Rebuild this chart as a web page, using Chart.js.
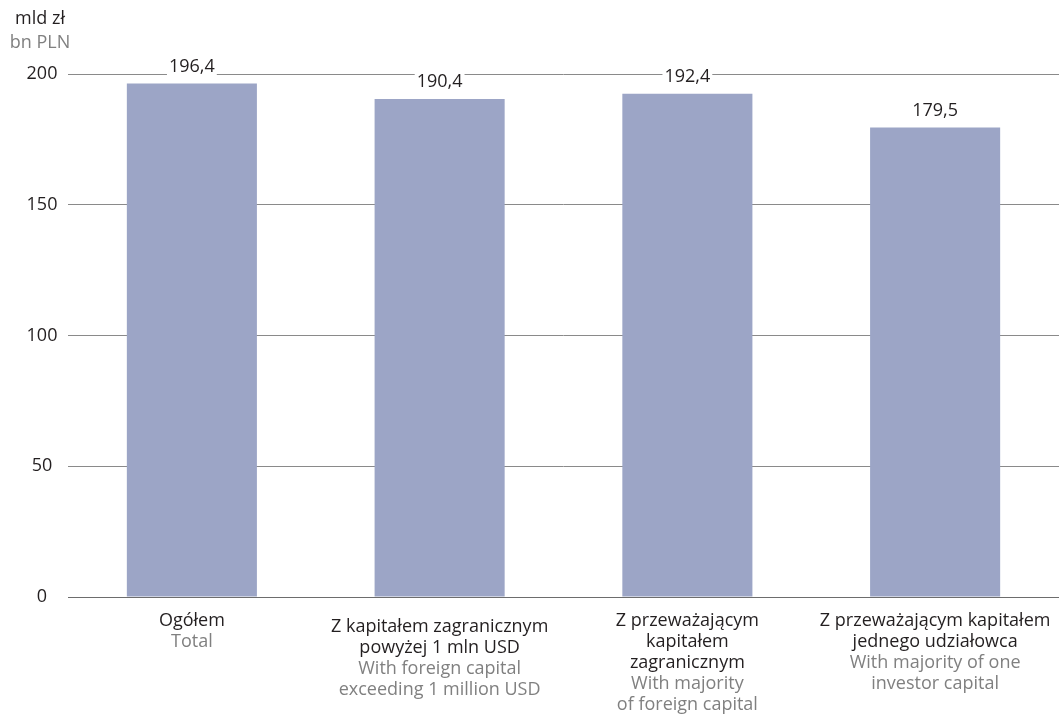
<!DOCTYPE html>
<html>
<head>
<meta charset="utf-8">
<script src="https://cdn.jsdelivr.net/npm/chart.js@4.4.0/dist/chart.umd.min.js"></script>
<style>
  html, body { margin: 0; padding: 0; background: #fff; }
  #wrap { width: 1059px; height: 722px; }
</style>
</head>
<body>
<div id="wrap"><canvas id="chart" width="1059" height="722"></canvas></div>
<script>
// Dane
const kategoriePL = [
  ["Ogółem"],
  ["Z kapitałem zagranicznym", "powyżej 1 mln USD"],
  ["Z przeważającym", "kapitałem", "zagranicznym"],
  ["Z przeważającym kapitałem", "jednego udziałowca"]
];
const kategorieEN = [
  ["Total"],
  ["With foreign capital", "exceeding 1 million USD"],
  ["With majority", "of foreign capital"],
  ["With majority of one", "investor capital"]
];
const wartosci = [196.4, 190.4, 192.4, 179.5];
const yTicks = [0, 50, 100, 150, 200];
const jednostkaPL = "mld zł";
const jednostkaEN = "bn PLN";

const FONT = "'Open Sans', 'Noto Sans', sans-serif";
const CZARNY = "#231f20";
const SZARY = "#808080";

// Etykiety: wartości nad słupkami, opisy kategorii, oś Y i jednostka
const etykietyPlugin = {
  id: "etykiety",
  afterDatasetsDraw(chart) {
    const ctx = chart.ctx;
    const meta = chart.getDatasetMeta(0);
    ctx.save();
    ctx.font = "18px " + FONT;
    ctx.textAlign = "center";
    ctx.textBaseline = "middle";
    meta.data.forEach((bar, i) => {
      const txt = wartosci[i].toFixed(1).replace(".", ",");
      const w = ctx.measureText(txt).width;
      const y = bar.y - 17;
      ctx.fillStyle = "#fff";
      ctx.fillRect(bar.x - w / 2 - 2, y - 9, w + 4, 18);
      ctx.fillStyle = CZARNY;
      ctx.fillText(txt, bar.x, y);
    });
    ctx.restore();
  },
  afterDraw(chart) {
    const ctx = chart.ctx;
    const x = chart.scales.x;
    const y = chart.scales.y;
    ctx.save();
    ctx.font = "18px " + FONT;
    ctx.textAlign = "center";
    ctx.textBaseline = "middle";
    kategoriePL.forEach((linie, i) => {
      const cx = x.getPixelForValue(i);
      let ly = i === 1 ? 627 : 621;
      ctx.fillStyle = CZARNY;
      linie.forEach((l) => { ctx.fillText(l, cx, ly); ly += 21; });
      ctx.fillStyle = SZARY;
      kategorieEN[i].forEach((l) => { ctx.fillText(l, cx, ly); ly += 21; });
    });
    // oś Y
    ctx.fillStyle = CZARNY;
    yTicks.forEach((v) => ctx.fillText(String(v), 42, y.getPixelForValue(v)));
    // jednostka
    ctx.fillText(jednostkaPL, 40, 19);
    ctx.fillStyle = SZARY;
    ctx.fillText(jednostkaEN, 40, 43);
    ctx.restore();
  }
};

new Chart(document.getElementById("chart").getContext("2d"), {
  type: "bar",
  data: {
    labels: kategoriePL.map((l) => l.join(" ")),
    datasets: [{
      data: wartosci,
      backgroundColor: "#9ca5c6",
      barPercentage: 0.525,
      categoryPercentage: 1
    }]
  },
  options: {
    responsive: false,
    animation: false,
    layout: { padding: { top: 74, right: 0, left: 0, bottom: 0 } },
    plugins: {
      legend: { display: false },
      tooltip: { enabled: false }
    },
    scales: {
      x: {
        ticks: { display: false },
        grid: { display: false },
        border: { display: true, color: "#6d6d6d", width: 1 },
        afterFit(scale) { scale.height = 125; }
      },
      y: {
        min: 0,
        max: 200,
        afterBuildTicks(scale) { scale.ticks = yTicks.map((v) => ({ value: v })); },
        ticks: { display: false },
        grid: { drawTicks: false, color: "#8a8a8a", lineWidth: 1 },
        border: { display: false },
        afterFit(scale) { scale.width = 68; }
      }
    }
  },
  plugins: [etykietyPlugin]
});
</script>
</body>
</html>
